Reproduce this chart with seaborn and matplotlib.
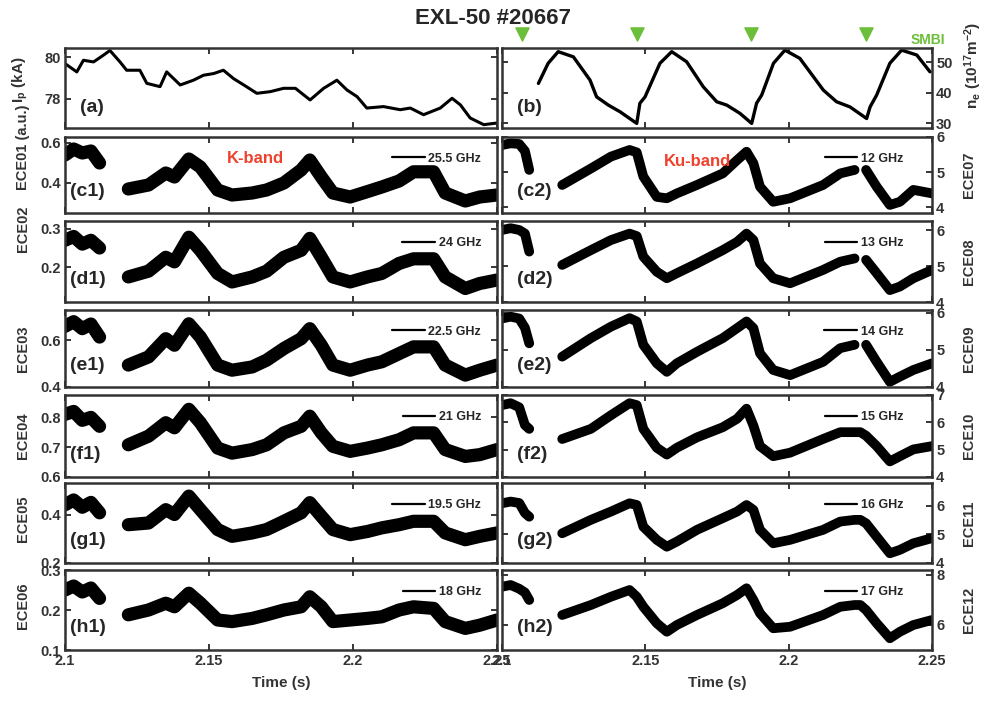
import numpy as np
import pandas as pd
import matplotlib.pyplot as plt
import seaborn as sns
from matplotlib.lines import Line2D

nan = np.nan

# ---- (a) plasma current, (b) line density ----
t_ip = [2.100, 2.1041, 2.1064, 2.1099, 2.1133, 2.1156, 2.1191, 2.1214, 2.126, 2.1284,
        2.133, 2.1353, 2.140, 2.1446, 2.1481, 2.1516, 2.155, 2.1585, 2.163, 2.1666,
        2.1713, 2.1759, 2.180, 2.1851, 2.1898, 2.1944, 2.1979, 2.2014, 2.2048, 2.2106,
        2.2164, 2.2199, 2.2245, 2.2303, 2.2344, 2.2373, 2.2407, 2.2454, 2.250]
ip = [79.70, 79.30, 79.86, 79.78, 80.10, 80.33, 79.78, 79.38, 79.38, 78.75,
      78.59, 79.30, 78.67, 78.90, 79.14, 79.22, 79.38, 78.98, 78.59, 78.27,
      78.35, 78.51, 78.51, 77.95, 78.51, 78.90, 78.43, 78.11, 77.56, 77.63,
      77.48, 77.56, 77.24, 77.56, 78.03, 77.71, 77.08, 76.76, 76.84]

t_ne = [2.1127, 2.1161, 2.1196, 2.1249, 2.1307, 2.133, 2.1371, 2.1412, 2.147, 2.1481,
        2.1499, 2.1551, 2.1592, 2.1644, 2.1702, 2.1749, 2.1784, 2.183, 2.1871, 2.1888,
        2.1906, 2.1947, 2.1987, 2.2039, 2.2121, 2.2167, 2.2214, 2.2272, 2.2284, 2.2307,
        2.2353, 2.2394, 2.2447, 2.2493]
ne = [43.0, 49.6, 53.4, 51.7, 44.1, 38.6, 35.9, 33.7, 29.9, 36.5,
      38.6, 49.6, 53.4, 50.1, 41.9, 37.0, 35.9, 33.2, 29.9, 36.5,
      39.2, 49.6, 53.9, 51.2, 40.8, 37.0, 35.3, 31.5, 35.3, 39.2,
      49.6, 53.9, 52.3, 46.8]

smbi_t = [2.107, 2.147, 2.187, 2.227]

# ---- K-band ECE (left column) ----
t_k = [2.100, 2.103, 2.106, 2.109, 2.112, 2.117, 2.122, 2.129, 2.135, 2.138,
       2.143, 2.147, 2.153, 2.158, 2.165, 2.170, 2.176, 2.182, 2.185, 2.189,
       2.193, 2.199, 2.205, 2.210, 2.216, 2.221, 2.228, 2.232, 2.239, 2.244, 2.250]
ece01 = [0.54, 0.57, 0.55, 0.56, 0.50, nan, 0.37, 0.39, 0.45, 0.43,
         0.52, 0.48, 0.365, 0.34, 0.35, 0.365, 0.40, 0.465, 0.515, 0.43,
         0.35, 0.33, 0.357, 0.38, 0.41, 0.456, 0.456, 0.35, 0.31, 0.33, 0.34]
ece02 = [0.27, 0.28, 0.26, 0.27, 0.25, nan, 0.175, 0.19, 0.226, 0.214,
         0.278, 0.244, 0.184, 0.162, 0.175, 0.19, 0.226, 0.244, 0.275, 0.226,
         0.175, 0.162, 0.175, 0.184, 0.21, 0.222, 0.222, 0.175, 0.145, 0.158, 0.167]
ece03 = [0.66, 0.68, 0.65, 0.67, 0.614, nan, 0.494, 0.529, 0.607, 0.579,
         0.671, 0.614, 0.494, 0.472, 0.486, 0.515, 0.565, 0.607, 0.65, 0.579,
         0.494, 0.472, 0.494, 0.508, 0.543, 0.572, 0.572, 0.494, 0.451, 0.472, 0.494]
ece04 = [0.81, 0.82, 0.79, 0.80, 0.77, nan, 0.708, 0.737, 0.782, 0.765,
         0.827, 0.782, 0.697, 0.68, 0.692, 0.708, 0.748, 0.77, 0.804, 0.748,
         0.703, 0.686, 0.697, 0.708, 0.725, 0.748, 0.748, 0.692, 0.669, 0.675, 0.692]
ece05 = [0.44, 0.46, 0.43, 0.45, 0.407, nan, 0.358, 0.365, 0.42, 0.40,
         0.476, 0.42, 0.338, 0.31, 0.324, 0.338, 0.372, 0.407, 0.449, 0.393,
         0.338, 0.317, 0.33, 0.345, 0.358, 0.372, 0.372, 0.324, 0.296, 0.31, 0.324]
ece06 = [0.25, 0.26, 0.245, 0.255, 0.229, nan, 0.188, 0.20, 0.217, 0.208,
         0.242, 0.217, 0.175, 0.171, 0.179, 0.188, 0.20, 0.208, 0.233, 0.208,
         0.171, 0.175, 0.179, 0.183, 0.20, 0.208, 0.204, 0.171, 0.154, 0.162, 0.175]

# ---- Ku-band ECE (right column) ----
t_ku = [2.100, 2.103, 2.106, 2.108, 2.1095, 2.115, 2.121, 2.131, 2.138, 2.1445,
        2.147, 2.1493, 2.154, 2.1575, 2.161, 2.168, 2.177, 2.182, 2.1853, 2.1877,
        2.190, 2.1946, 2.2005, 2.212, 2.218, 2.223, 2.225, 2.227, 2.2307, 2.2353,
        2.2388, 2.2435, 2.250]
ece07 = [5.77, 5.82, 5.8, 5.6, 5.06, nan, 4.63, 5.1, 5.44, 5.63,
         5.56, 4.87, 4.29, 4.25, 4.39, 4.63, 4.96, 5.34, 5.58, 5.25,
         4.58, 4.15, 4.25, 4.63, 4.96, 5.06, nan, 5.06, 4.58, 4.06,
         4.15, 4.49, 4.39]
ece08 = [6.0, 6.05, 6.0, 5.9, 5.4, nan, 5.03, 5.44, 5.72, 5.9,
         5.83, 5.26, 4.84, 4.66, 4.8, 5.07, 5.44, 5.67, 5.9, 5.72,
         5.07, 4.66, 4.52, 4.89, 5.12, 5.21, nan, 5.17, 4.8, 4.33,
         4.43, 4.66, 4.89]
ece09 = [5.85, 5.9, 5.85, 5.6, 5.18, nan, 4.82, 5.32, 5.63, 5.86,
         5.77, 5.14, 4.64, 4.41, 4.64, 4.95, 5.32, 5.59, 5.77, 5.59,
         4.91, 4.46, 4.32, 4.68, 5.05, 5.14, nan, 5.14, 4.68, 4.14,
         4.28, 4.46, 4.64]
ece10 = [6.63, 6.7, 6.55, 5.9, 5.76, nan, 5.39, 5.76, 6.26, 6.7,
         6.63, 5.76, 5.07, 4.82, 5.07, 5.45, 5.82, 6.13, 6.5, 5.88,
         5.13, 4.76, 4.89, 5.39, 5.64, 5.64, 5.64, 5.51, 5.13, 4.57,
         4.76, 5.01, 5.13]
ece11 = [6.09, 6.15, 6.1, 5.75, 5.62, nan, 5.04, 5.51, 5.8, 6.09,
         6.03, 5.27, 4.81, 4.57, 4.75, 5.16, 5.57, 5.8, 6.03, 5.86,
         5.16, 4.69, 4.81, 5.16, 5.45, 5.51, 5.51, 5.39, 4.92, 4.34,
         4.46, 4.69, 4.87]
ece12 = [7.53, 7.6, 7.45, 7.3, 7.0, nan, 6.4, 6.8, 7.13, 7.4,
         7.13, 6.73, 6.07, 5.73, 6.0, 6.4, 6.87, 7.2, 7.47, 7.0,
         6.47, 5.87, 5.93, 6.4, 6.73, 6.8, 6.8, 6.6, 6.07, 5.47,
         5.73, 6.0, 6.2]

k_names = ["ECE01 (a.u.)", "ECE02", "ECE03", "ECE04", "ECE05", "ECE06"]
k_freqs = ["25.5 GHz", "24 GHz", "22.5 GHz", "21 GHz", "19.5 GHz", "18 GHz"]
k_tags = ["(c1)", "(d1)", "(e1)", "(f1)", "(g1)", "(h1)"]
ku_names = ["ECE07", "ECE08", "ECE09", "ECE10", "ECE11", "ECE12"]
ku_freqs = ["12 GHz", "13 GHz", "14 GHz", "15 GHz", "16 GHz", "17 GHz"]
ku_tags = ["(c2)", "(d2)", "(e2)", "(f2)", "(g2)", "(h2)"]

xticks = [2.1, 2.15, 2.2, 2.25]
xtick_labels = ["2.1", "2.15", "2.2", "2.25"]

# ---- style ----
sns.set_style("ticks")
plt.rcParams["font.family"] = ["Liberation Sans", "DejaVu Sans"]
plt.rcParams["font.weight"] = "bold"
plt.rcParams["axes.labelweight"] = "bold"
plt.rcParams["mathtext.fontset"] = "custom"
plt.rcParams["mathtext.rm"] = "Liberation Sans:bold"
plt.rcParams["mathtext.it"] = "Liberation Sans:bold"
plt.rcParams["mathtext.default"] = "rm"

GREEN = "#6cbf3a"
RED = "#f0412c"
GREY = "#333333"

fig = plt.figure(figsize=(9.87, 7.06), dpi=100)
W, H = 987, 706
rows = [(48, 128), (137, 213), (221, 302), (310, 387), (395, 477), (483, 563), (570, 650)]
cols = [(65, 497), (502, 932)]


def make_ax(r, c):
    top, bot = rows[r]
    x0, x1 = cols[c]
    return fig.add_axes([x0 / W, 1 - bot / H, (x1 - x0) / W, (bot - top) / H])


def draw(ax, t, y, lw):
    df = pd.DataFrame({"t": t, "v": y})
    df["seg"] = df["v"].isna().cumsum()
    df = df.dropna()
    sns.lineplot(data=df, x="t", y="v", units="seg", estimator=None, color="black",
                 lw=lw, ax=ax, legend=False, sort=False)


def style(ax, side, ylim, yticks, bottom=False):
    ax.set_xlim(2.1, 2.25)
    ax.set_ylim(*ylim)
    ax.set_yticks(yticks)
    ax.set_xticks(xticks)
    ax.set_xticklabels(xtick_labels)
    ax.tick_params(direction="in", top=True, bottom=True, left=True, right=True,
                   length=4, width=1.3, labelsize=10.5, labelcolor=GREY, pad=3,
                   labelbottom=bottom, labelleft=(side == "left"),
                   labelright=(side == "right"))
    if side == "right":
        ax.yaxis.set_label_position("right")
    for s in ax.spines.values():
        s.set_linewidth(1.8)
        s.set_color(GREY)
    ax.set_xlabel("")
    ax.set_ylabel("")


def freq_legend(ax, text, anchor):
    h = Line2D([], [], color="black", lw=1.6)
    ax.legend([h], [text], loc="upper right", bbox_to_anchor=anchor, frameon=False,
              prop={"weight": "bold", "size": 9}, handlelength=2.6, handletextpad=0.3,
              borderaxespad=0)


# (a)
ax = make_ax(0, 0)
draw(ax, t_ip, ip, 2.2)
style(ax, "left", (76.6, 80.45), [78, 80])
ax.set_ylabel(r"I$_{p}$ (kA)", fontsize=11, color=GREY)
ax.yaxis.set_label_coords(-0.08, 0.6)
ax.text(0.035, 0.25, "(a)", transform=ax.transAxes, fontsize=14, va="center")

# (b)
ax = make_ax(0, 1)
draw(ax, t_ne, ne, 2.4)
style(ax, "right", (28.4, 54.6), [30, 40, 50])
ax.set_ylabel(r"n$_{e}$ (10$^{17}$m$^{-2}$)", fontsize=11, color=GREY)
ax.yaxis.set_label_coords(1.07, 0.78)
ax.text(0.035, 0.25, "(b)", transform=ax.transAxes, fontsize=14, va="center")
ax.scatter(smbi_t, [1.17] * len(smbi_t), marker="v", s=90, color=GREEN,
           transform=ax.get_xaxis_transform(), clip_on=False, zorder=5)
ax.text(1.03, 1.1, "SMBI", transform=ax.transAxes, color=GREEN, fontsize=10,
        ha="right", va="center")

k_data = [ece01, ece02, ece03, ece04, ece05, ece06]
k_ylims = [(0.25, 0.63), (0.11, 0.32), (0.4, 0.73), (0.6, 0.875), (0.2, 0.53), (0.1, 0.3)]
k_yticks = [[0.4, 0.6], [0.2, 0.3], [0.4, 0.6], [0.6, 0.7, 0.8], [0.2, 0.4], [0.1, 0.2, 0.3]]
k_label_y = [0.86, 0.9, 0.5, 0.5, 0.55, 0.55]

ku_data = [ece07, ece08, ece09, ece10, ece11, ece12]
ku_ylims = [(3.83, 6.0), (4, 6.25), (4, 6.08), (4, 7), (4, 6.8), (5.0, 8.2)]
ku_yticks = [[4, 5, 6], [4, 5, 6], [4, 5, 6], [4, 5, 6, 7], [4, 5, 6], [6, 8]]

for i in range(6):
    last = i == 5
    ax = make_ax(i + 1, 0)
    draw(ax, t_k, k_data[i], 9.5)
    style(ax, "left", k_ylims[i], k_yticks[i], bottom=last)
    ax.set_ylabel(k_names[i], fontsize=10.5, color=GREY)
    ax.yaxis.set_label_coords(-0.08, k_label_y[i])
    ax.text(0.012, 0.28, k_tags[i], transform=ax.transAxes, fontsize=14, va="center")
    freq_legend(ax, k_freqs[i], (0.975, 0.86))
    if i == 0:
        ax.text(0.44, 0.72, "K-band", transform=ax.transAxes, color=RED, fontsize=12,
                ha="center", va="center")
    if last:
        ax.set_xlabel("Time (s)", fontsize=11, color=GREY, labelpad=6)

    ax = make_ax(i + 1, 1)
    draw(ax, t_ku, ku_data[i], 7)
    style(ax, "right", ku_ylims[i], ku_yticks[i], bottom=last)
    ax.set_ylabel(ku_names[i], fontsize=10.5, color=GREY)
    ax.yaxis.set_label_coords(1.07, 0.5)
    ax.text(0.035, 0.28, ku_tags[i], transform=ax.transAxes, fontsize=14, va="center")
    freq_legend(ax, ku_freqs[i], (0.945, 0.86))
    if i == 0:
        ax.text(0.455, 0.68, "Ku-band", transform=ax.transAxes, color=RED, fontsize=12,
                ha="center", va="center")
    if last:
        ax.set_xlabel("Time (s)", fontsize=11, color=GREY, labelpad=6)

fig.text(0.5, 0.974, "EXL-50 #20667", ha="center", va="center", fontsize=16)

fig.savefig("out.png", dpi=100)
